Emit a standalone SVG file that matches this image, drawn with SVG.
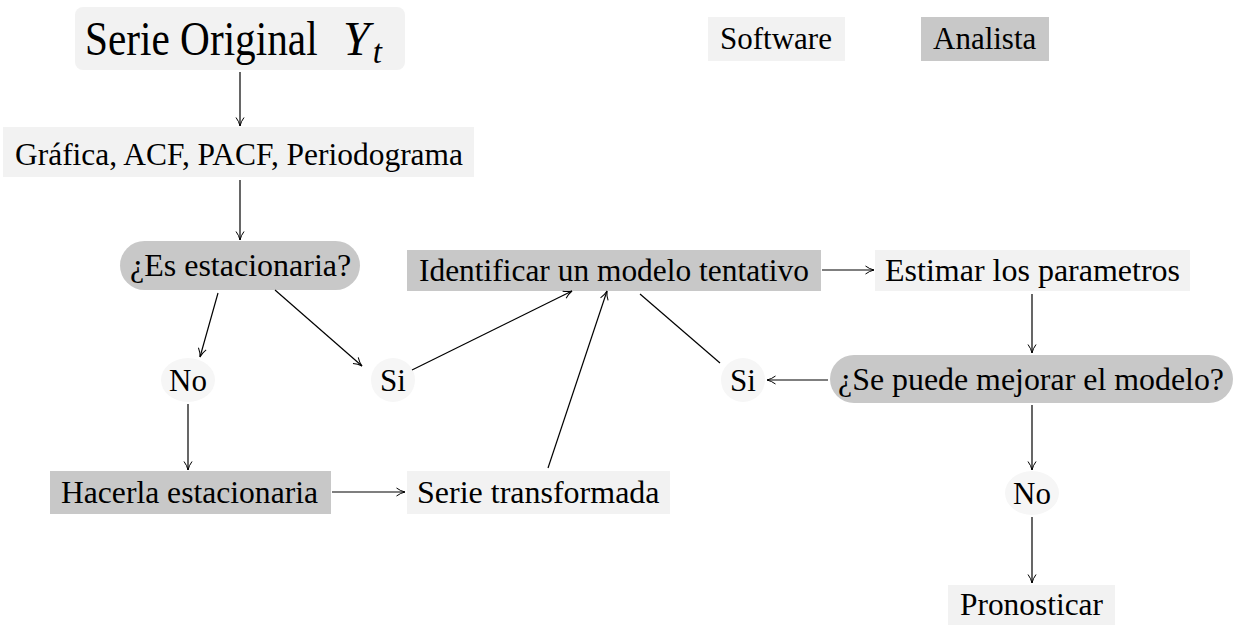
<svg xmlns="http://www.w3.org/2000/svg" width="1234" height="625" viewBox="0 0 1234 625">
<style>
text{font-family:"Liberation Serif","Times New Roman",serif;fill:#000;}
.t{font-size:31px;}
.tc{font-size:32px;}
.sw{fill:#f2f2f2;}
.an{fill:#c8c8c8;}
.ci{fill:#f6f6f6;}
.c{stroke:#000;stroke-width:1.2;fill:none;}
.a{stroke:#000;stroke-width:1.2;fill:none;marker-end:url(#ah);}
</style>
<defs>
<marker id="ah" viewBox="0 0 10 10" refX="9.5" refY="5" markerWidth="10" markerHeight="10" markerUnits="userSpaceOnUse" orient="auto">
<path d="M1,1 Q5,4 9.5,5 Q5,6 1,9" fill="none" stroke="#000" stroke-width="1"/>
</marker>
</defs>
<rect width="1234" height="625" fill="#fff"/>

<g id="legend-software"><rect class="sw" x="708" y="17" width="137" height="44"/><text class="t" x="720" y="49">Software</text></g>
<g id="legend-analista"><rect class="an" x="921" y="17" width="128" height="44"/><text class="t" x="933" y="49">Analista</text></g>

<g id="serie-original"><rect class="sw" x="75" y="7" width="330" height="63" rx="8"/>
<text font-size="48" transform="translate(85 55) scale(0.86 1)">Serie Original</text>
<text x="343" y="55" font-size="48" font-style="italic">Y<tspan font-size="33" dx="3" dy="8">t</tspan></text></g>

<g id="grafica"><rect class="sw" x="3" y="127" width="471" height="50"/><text class="t" x="15" y="165" textLength="448" lengthAdjust="spacingAndGlyphs">Gráfica, ACF, PACF, Periodograma</text></g>

<g id="es-estacionaria"><rect class="an" x="120" y="241" width="240" height="49" rx="24.5"/><text class="tc" x="130" y="276">¿Es estacionaria?</text></g>

<g id="identificar"><rect class="an" x="407" y="250" width="414" height="41"/><text class="tc" x="419" y="281" textLength="390" lengthAdjust="spacingAndGlyphs">Identificar un modelo tentativo</text></g>

<g id="estimar"><rect class="sw" x="875" y="250" width="315" height="41"/><text class="tc" x="885" y="281">Estimar los parametros</text></g>

<g id="no-left"><ellipse class="ci" cx="188" cy="380" rx="27" ry="22"/><text class="t" x="188" y="391" text-anchor="middle">No</text></g>

<g id="si-left"><ellipse class="ci" cx="393" cy="380" rx="22" ry="22"/><text class="t" x="393" y="391" text-anchor="middle">Si</text></g>

<g id="si-right"><ellipse class="ci" cx="743" cy="380" rx="22" ry="22"/><text class="t" x="743" y="391" text-anchor="middle">Si</text></g>

<g id="se-puede"><rect class="an" x="830" y="355" width="403" height="48" rx="24"/><text class="tc" x="838" y="390" textLength="386" lengthAdjust="spacingAndGlyphs">¿Se puede mejorar el modelo?</text></g>

<g id="hacerla"><rect class="an" x="50" y="471" width="281" height="43"/><text class="tc" x="61" y="503" textLength="257" lengthAdjust="spacingAndGlyphs">Hacerla estacionaria</text></g>

<g id="serie-transformada"><rect class="sw" x="407" y="471" width="263" height="43"/><text class="tc" x="417" y="503">Serie transformada</text></g>

<g id="no-right"><ellipse class="ci" cx="1032" cy="493" rx="27" ry="22"/><text class="t" x="1032" y="504" text-anchor="middle">No</text></g>

<g id="pronosticar"><rect class="sw" x="948" y="585" width="167" height="40"/><text class="t" x="960" y="615" textLength="143" lengthAdjust="spacingAndGlyphs">Pronosticar</text></g>

<g id="connectors">
<line class="a" x1="240" y1="72" x2="240" y2="126"/>
<line class="a" x1="240" y1="180" x2="240" y2="240"/>
<line class="a" x1="218" y1="293" x2="200" y2="357"/>
<line class="a" x1="275" y1="290" x2="362" y2="366"/>
<line class="a" x1="412" y1="370" x2="572" y2="291"/>
<line class="a" x1="188" y1="404" x2="188" y2="470"/>
<line class="a" x1="332" y1="492" x2="405" y2="492"/>
<line class="a" x1="548" y1="468" x2="607" y2="291"/>
<line class="c" x1="720" y1="363" x2="640" y2="294"/>
<line class="a" x1="822" y1="270" x2="874" y2="270"/>
<line class="a" x1="1032" y1="294" x2="1032" y2="353"/>
<line class="a" x1="828" y1="380" x2="767" y2="380"/>
<line class="a" x1="1032" y1="405" x2="1032" y2="470"/>
<line class="a" x1="1032" y1="517" x2="1032" y2="583"/>
</g>
</svg>
